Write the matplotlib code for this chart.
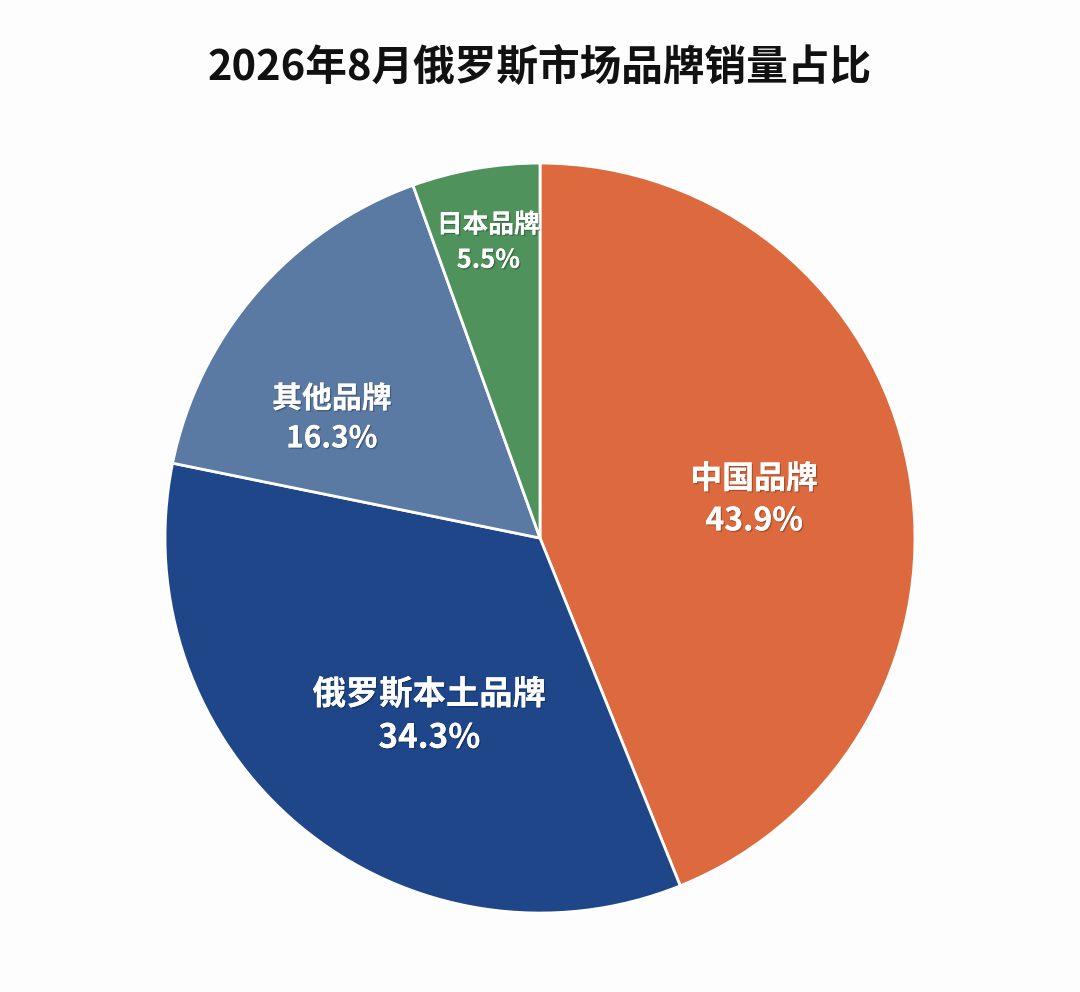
import matplotlib
matplotlib.use("Agg")
import matplotlib.pyplot as plt
import matplotlib.patheffects as pe
import numpy as np

plt.rcParams['font.family'] = ['Noto Sans CJK SC', 'DejaVu Sans']

title = "2026年8月俄罗斯市场品牌销量占比"
categories = ["中国品牌", "俄罗斯本土品牌", "其他品牌", "日本品牌"]
shares = [43.9, 34.3, 16.3, 5.5]
colors = ["#DD6A3F", "#20468A", "#5A7AA3", "#4F925B"]
label_dist = [0.58, 0.56, 0.64, 0.80]
label_offset = [-1.0, 8.0, 11.0, 0.0]
label_size = [23, 24, 21.5, 18.5]

fig = plt.figure(figsize=(10.8, 9.92), dpi=100)
fig.patch.set_facecolor("#FDFDFD")
ax = fig.add_axes([0.1528, 0.0796, 0.6944, 0.756])
ax.set_facecolor("none")

wedges, _ = ax.pie(shares, colors=colors, startangle=90, counterclock=False,
                   radius=1.0,
                   wedgeprops=dict(edgecolor="white", linewidth=2.0))
ax.set_xlim(-1, 1)
ax.set_ylim(-1, 1)
ax.set_aspect("equal")
ax.axis("off")

shadow = [pe.withSimplePatchShadow(offset=(1, -1), shadow_rgbFace="#000000", alpha=0.25), pe.Normal()]
for w, cat, val, d, off, fs in zip(wedges, categories, shares, label_dist, label_offset, label_size):
    ang = np.deg2rad((w.theta1 + w.theta2) / 2 + off)
    x, y = d * np.cos(ang), d * np.sin(ang)
    ax.text(x, y, f"{cat}\n{val}%", ha="center", va="center", color="white",
            fontsize=fs, fontweight="bold", linespacing=1.4, path_effects=shadow)

fig.text(0.5, 0.931, title, ha="center", va="center", fontsize=30,
         fontweight="bold", color="#111111")

fig.savefig("out.png", dpi=100, facecolor=fig.get_facecolor())
